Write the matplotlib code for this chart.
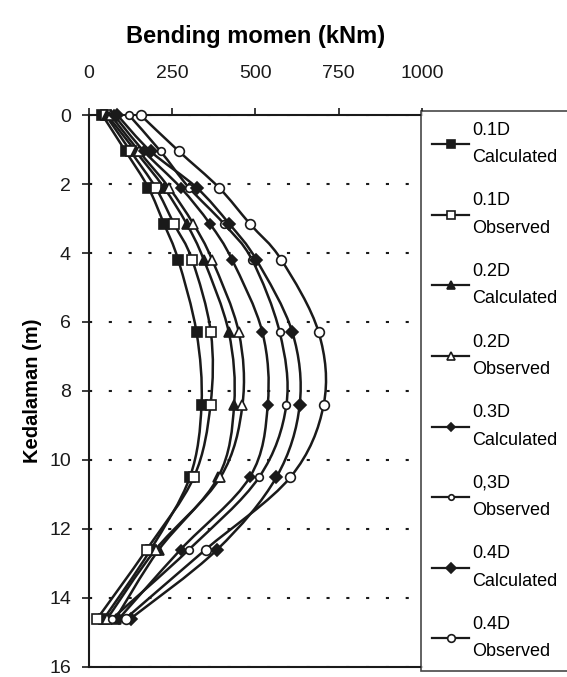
import numpy as np
import matplotlib
matplotlib.use('Agg')
import matplotlib.pyplot as plt
from matplotlib.path import Path
from matplotlib.patches import PathPatch
from matplotlib.lines import Line2D

plt.rcParams['font.family'] = ['Liberation Sans Narrow', 'Liberation Sans', 'DejaVu Sans']

# depth of the measuring points (m)
depth = [0, 1.05, 2.1, 3.15, 4.2, 6.3, 8.4, 10.5, 12.6, 14.6]

# bending moment (kNm) per case
cal_01 = [40, 110, 178, 225, 268, 323, 338, 303, 185, 45]
obs_01 = [50, 125, 200, 255, 310, 366, 365, 315, 173, 25]
cal_02 = [55, 140, 225, 293, 345, 420, 436, 388, 210, 80]
obs_02 = [65, 150, 240, 313, 370, 450, 461, 395, 200, 55]
cal_03 = [75, 165, 275, 363, 430, 521, 537, 483, 275, 90]
obs_03 = [120, 215, 300, 405, 490, 573, 593, 511, 300, 70]
cal_04 = [85, 185, 323, 421, 503, 611, 633, 563, 385, 125]
obs_04 = [155, 270, 390, 483, 578, 690, 705, 605, 350, 110]

labels = ['0.1D\nCalculated', '0.1D\nObserved', '0.2D\nCalculated', '0.2D\nObserved',
          '0.3D\nCalculated', '0,3D\nObserved', '0.4D\nCalculated', '0.4D\nObserved']
series = [cal_01, obs_01, cal_02, obs_02, cal_03, obs_03, cal_04, obs_04]

xticks = [0, 250, 500, 750, 1000]
yticks = [0, 2, 4, 6, 8, 10, 12, 14, 16]

# marker, filled, size
styles = [('s', True, 7.5), ('s', False, 7.5), ('^', True, 7.5), ('^', False, 7.5),
          ('D', True, 5.5), ('o', False, 5.5), ('D', True, 6.5), ('o', False, 7)]
INK = '#1a1a1a'


def smooth_path(xs, ys):
  """ Catmull-Rom style smoothed line, like a spreadsheet smoothed line """
  p = np.column_stack([xs, ys]).astype(float)
  n = len(p)
  verts = [p[0]]
  codes = [Path.MOVETO]
  for i in range(n - 1):
    p0 = p[i - 1] if i > 0 else p[i]
    p3 = p[i + 2] if i + 2 < n else p[i + 1]
    c1 = p[i] + (p[i + 1] - p0) / 6.0
    c2 = p[i + 1] - (p3 - p[i]) / 6.0
    verts += [c1, c2, p[i + 1]]
    codes += [Path.CURVE4] * 3
  return Path(verts, codes)


fig = plt.figure(figsize=(5.67, 6.77), dpi=100)
ax = fig.add_axes([0.157, 0.015, 0.587, 0.815])

handles = []
for vals, (m, filled, ms) in zip(series, styles):
  ax.add_patch(PathPatch(smooth_path(vals, depth), fill=False, edgecolor=INK,
                         lw=1.8, clip_on=False, zorder=2))
  fc = INK if filled else 'white'
  ax.plot(vals, depth, linestyle='none', marker=m, ms=ms, mfc=fc, mec=INK,
          mew=1.2, clip_on=False, zorder=3)
  handles.append(Line2D([], [], color=INK, lw=1.6, marker=m, ms=ms - 1.5,
                        mfc=fc, mec=INK, mew=1.2))

ax.set_xlim(0, 1000)
ax.set_ylim(16, 0)
ax.set_xticks(xticks)
ax.set_yticks(yticks)
ax.xaxis.tick_top()
ax.xaxis.set_label_position('top')
ax.set_xlabel('Bending momen (kNm)', fontsize=17, fontweight='bold', labelpad=16)
ax.set_ylabel('Kedalaman (m)', fontsize=14.5, fontweight='bold', labelpad=5)
ax.tick_params(axis='both', labelsize=14, length=5, width=1.2, colors=INK)
ax.tick_params(axis='x', pad=19)
ax.tick_params(axis='y', pad=8)
for s in ax.spines.values():
  s.set_linewidth(1.5)
  s.set_color(INK)
ax.spines['right'].set_visible(False)
ax.yaxis.grid(True, linestyle=(0, (1.5, 8)), color=INK, lw=1.5)
ax.set_axisbelow(True)

leg = fig.legend(handles, labels, loc='upper left', bbox_to_anchor=(0.742, 0.0, 0.35, 0.836),
                 mode='expand', fontsize=13, frameon=True, fancybox=False, edgecolor=INK,
                 handlelength=2.1, handletextpad=0.15, labelspacing=1.45,
                 borderpad=0.6, borderaxespad=0)
leg.get_frame().set_linewidth(1.2)
for t in leg.get_texts():
  t.set_linespacing(1.8)

fig.savefig('out.png', dpi=100)
